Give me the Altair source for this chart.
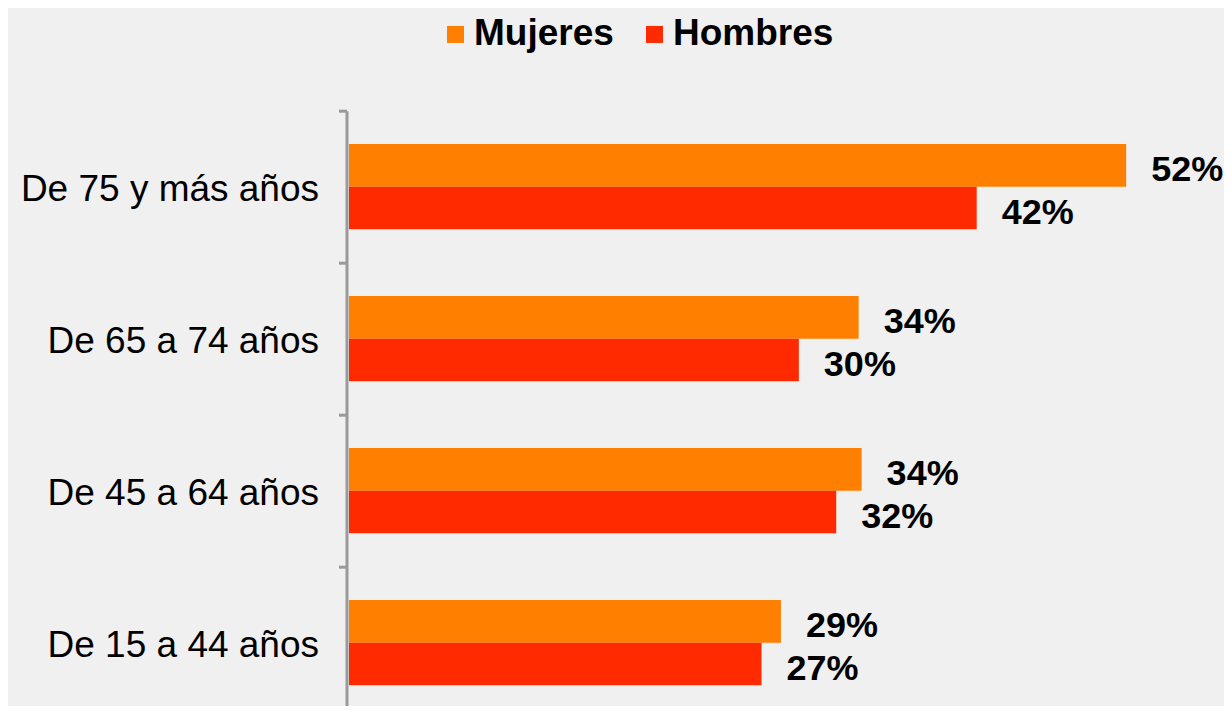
import altair as alt
import pandas as pd

categories = ["De 75 y más años", "De 65 a 74 años", "De 45 a 64 años", "De 15 a 44 años"]
series = ["Mujeres", "Hombres"]
mujeres = [52.0, 34.1, 34.3, 28.9]
hombres = [42.0, 30.1, 32.6, 27.6]
mujeres_labels = ["52%", "34%", "34%", "29%"]
hombres_labels = ["42%", "30%", "32%", "27%"]
colors = ["#FF7F00", "#FF2A00"]

rows = []
for c, v, l in zip(categories, mujeres, mujeres_labels):
    rows.append({"cat": c, "serie": "Mujeres", "value": v, "label": l})
for c, v, l in zip(categories, hombres, hombres_labels):
    rows.append({"cat": c, "serie": "Hombres", "value": v, "label": l})
df = pd.DataFrame(rows)

FONT = "Liberation Sans"
AXIS_GRAY = "#9a9a9a"

y = alt.Y(
    "cat:N",
    sort=categories,
    scale=alt.Scale(paddingInner=0, paddingOuter=0),
    axis=alt.Axis(
        title=None, tickBand="extent", domainColor=AXIS_GRAY, domainWidth=3,
        tickColor=AXIS_GRAY, tickWidth=3, tickSize=8, offset=2.5,
        labelFont=FONT, labelFontSize=37, labelColor="black",
        labelPadding=20, labelOffset=3, labelLimit=0,
    ),
)
yoff = alt.YOffset("serie:N", sort=series, scale=alt.Scale(paddingOuter=0.783, paddingInner=0))
x = alt.X("value:Q", scale=alt.Scale(domain=[0, 55], nice=False, zero=True), axis=None)

bars = alt.Chart(df).mark_bar(opacity=1).encode(
    x=x,
    y=y,
    yOffset=yoff,
    color=alt.Color(
        "serie:N",
        sort=series,
        scale=alt.Scale(domain=series, range=colors),
        legend=alt.Legend(
            title=None, orient="none", direction="horizontal",
            legendX=88, legendY=-95,
            symbolType="square", symbolSize=289, symbolStrokeWidth=0, symbolOpacity=1,
            labelFont=FONT, labelFontSize=37, labelFontWeight="bold", labelColor="black",
            labelOffset=0, columnPadding=22, padding=0, labelLimit=0,
        ),
    ),
)

text = alt.Chart(df).mark_text(
    align="left", baseline="middle", dx=25, dy=5,
    font=FONT, fontSize=36, fontWeight="bold", color="black",
).encode(x=x, y=y, yOffset=yoff, text="label:N")

chart = (bars + text).properties(
    width=822,
    height=608,
    padding={"left": 341, "top": 102.7, "right": 53, "bottom": -13},
    autosize=alt.AutoSizeParams(type="none"),
    background="#F0F0F0",
).configure_view(stroke=None)

chart.save("out.html", embed_options={"renderer": "svg", "actions": False})
